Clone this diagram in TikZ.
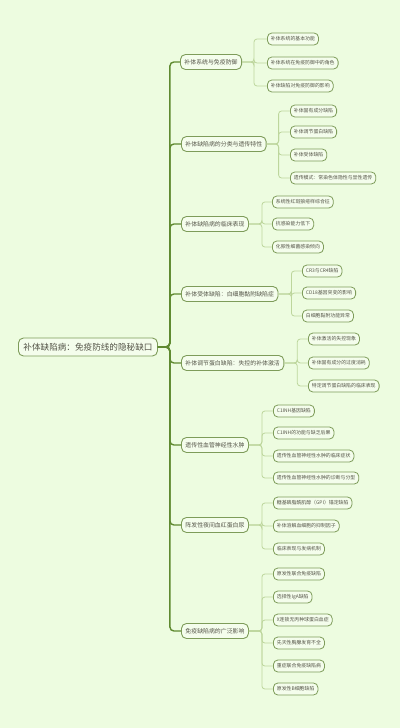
\documentclass[tikz,border=0pt]{standalone}
\usepackage{fontspec}
\setmainfont{Noto Sans CJK SC}
\usepackage{tikz}
\usetikzlibrary{positioning}

\definecolor{bgcol}{HTML}{EDFCE0}
\definecolor{boxfill}{HTML}{F4FDEC}
\definecolor{boxline}{HTML}{7E9C5A}
\definecolor{trunkcol}{HTML}{5F8A30}
\definecolor{leafcol}{HTML}{BDD69C}
\definecolor{txtcol}{HTML}{555548}

\begin{document}
\begin{tikzpicture}
    [
    x=1pt,y=-1pt,
    rootbox/.style={draw=boxline,fill=boxfill,rounded corners=5pt,line width=0.9pt,
      text=txtcol,inner xsep=5pt,minimum height=18pt,anchor=west,
      font=\fontsize{8.6}{10}\selectfont},
    branch/.style={draw=boxline,fill=boxfill,rounded corners=5pt,line width=0.9pt,
      text=txtcol,inner xsep=4pt,minimum height=15pt,anchor=west,
      font=\fontsize{5.9}{7}\selectfont},
    leaf/.style={draw=boxline,fill=boxfill,rounded corners=4.5pt,line width=0.8pt,
      text=txtcol,inner xsep=3.5pt,minimum height=12pt,anchor=west,
      font=\fontsize{4.9}{6}\selectfont},
    trunk/.style={draw=trunkcol,line width=1.4pt,rounded corners=4pt},
    twig/.style={draw=leafcol,line width=0.8pt,rounded corners=3pt},
    ]
    \fill[bgcol] (0,0) rectangle (400,728);
    \useasboundingbox (0,0) rectangle (400,728);

    \node (root) at (18,347) [rootbox] {补体缺陷病：免疫防线的隐秘缺口};

    \node (b1) at (180,62) [branch] {补体系统与免疫防御};
    \node (b2) at (181,144) [branch] {补体缺陷病的分类与遗传特性};
    \node (b3) at (181,224) [branch] {补体缺陷病的临床表现};
    \node (b4) at (181,294) [branch] {补体受体缺陷：白细胞黏附缺陷症};
    \node (b5) at (181,363) [branch] {补体调节蛋白缺陷：失控的补体激活};
    \node (b6) at (181,445) [branch] {遗传性血管神经性水肿};
    \node (b7) at (181,525) [branch] {阵发性夜间血红蛋白尿};
    \node (b8) at (181,631) [branch] {免疫缺陷病的广泛影响};

    \node (l11) at (267,39) [leaf] {补体系统的基本功能};
    \node (l12) at (267,63) [leaf] {补体系统在免疫防御中的角色};
    \node (l13) at (267,86) [leaf] {补体缺陷对免疫防御的影响};

    \node (l21) at (290,111) [leaf] {补体固有成分缺陷};
    \node (l22) at (290,132) [leaf] {补体调节蛋白缺陷};
    \node (l23) at (290,155) [leaf] {补体受体缺陷};
    \node (l24) at (290,178) [leaf] {遗传模式：常染色体隐性与显性遗传};

    \node (l31) at (272,202) [leaf] {系统性红斑狼疮样综合征};
    \node (l32) at (272,224) [leaf] {抗感染能力低下};
    \node (l33) at (272,247) [leaf] {化脓性细菌感染倾向};

    \node (l41) at (302,271) [leaf] {CR3与CR4缺陷};
    \node (l42) at (302,293) [leaf] {CD18基因突变的影响};
    \node (l43) at (302,316) [leaf] {白细胞黏附功能异常};

    \node (l51) at (308,339) [leaf] {补体激活的失控现象};
    \node (l52) at (308,363) [leaf] {补体固有成分的过度消耗};
    \node (l53) at (308,386) [leaf] {特定调节蛋白缺陷的临床表现};

    \node (l61) at (273,411) [leaf] {C1INH基因缺陷};
    \node (l62) at (273,433) [leaf] {C1INH的功能与缺乏后果};
    \node (l63) at (273,456) [leaf] {遗传性血管神经性水肿的临床症状};
    \node (l64) at (273,478) [leaf] {遗传性血管神经性水肿的诊断与分型};

    \node (l71) at (273,503) [leaf] {糖基磷脂酰肌醇（GPI）锚定缺陷};
    \node (l72) at (273,526) [leaf] {补体溶解血细胞的抑制因子};
    \node (l73) at (273,549) [leaf] {临床表现与发病机制};

    \node (l81) at (273,574) [leaf] {原发性联合免疫缺陷};
    \node (l82) at (273,597) [leaf] {选择性IgA缺陷};
    \node (l83) at (273,620) [leaf] {X连锁无丙种球蛋白血症};
    \node (l84) at (273,643) [leaf] {先天性胸腺发育不全};
    \node (l85) at (273,666) [leaf] {重症联合免疫缺陷病};
    \node (l86) at (273,689) [leaf] {原发性B细胞缺陷};

    % trunk from the root to every branch
    \foreach \b in {b1,b2,b3,b4,b5,b6,b7,b8}
      \draw [trunk] (root.east) -- ++(12,0) |- (\b.west);

    % twigs from branches to leaves
    \foreach \l in {l11,l12,l13}
      \draw [twig] (b1.east) -- ++(12,0) |- (\l.west);
    \foreach \l in {l21,l22,l23,l24}
      \draw [twig] (b2.east) -- ++(12,0) |- (\l.west);
    \foreach \l in {l31,l32,l33}
      \draw [twig] (b3.east) -- ++(13,0) |- (\l.west);
    \foreach \l in {l41,l42,l43}
      \draw [twig] (b4.east) -- ++(13,0) |- (\l.west);
    \foreach \l in {l51,l52,l53}
      \draw [twig] (b5.east) -- ++(13,0) |- (\l.west);
    \foreach \l in {l61,l62,l63,l64}
      \draw [twig] (b6.east) -- ++(13,0) |- (\l.west);
    \foreach \l in {l71,l72,l73}
      \draw [twig] (b7.east) -- ++(13,0) |- (\l.west);
    \foreach \l in {l81,l82,l83,l84,l85,l86}
      \draw [twig] (b8.east) -- ++(13,0) |- (\l.west);
\end{tikzpicture}
\end{document}
